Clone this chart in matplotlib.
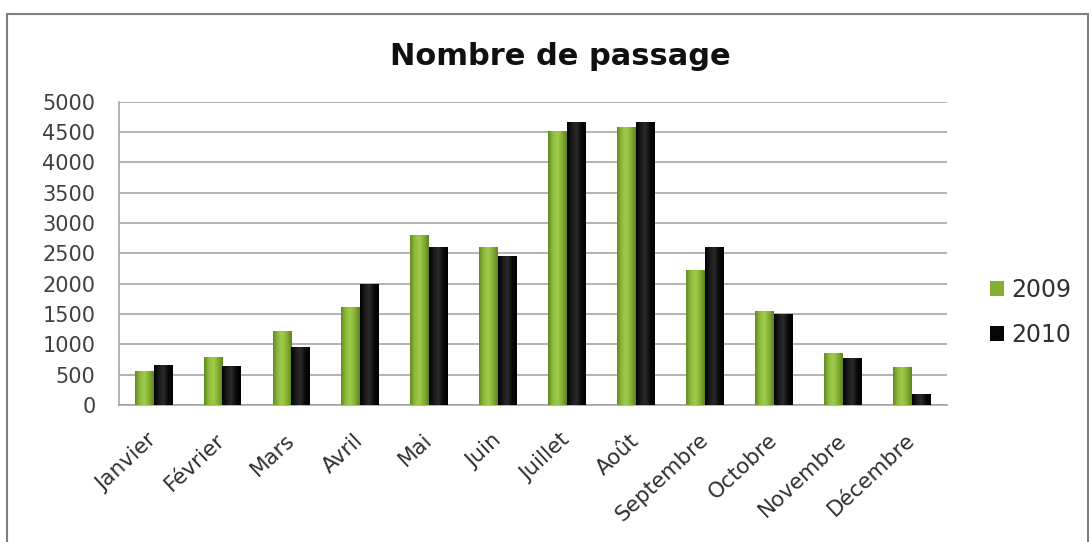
import numpy as np
import matplotlib
matplotlib.use("Agg")
import matplotlib.pyplot as plt
from matplotlib.patches import Rectangle
from matplotlib.colors import LinearSegmentedColormap
from matplotlib.transforms import ScaledTranslation

months = ["Janvier", "Février", "Mars", "Avril", "Mai", "Juin", "Juillet",
          "Août", "Septembre", "Octobre", "Novembre", "Décembre"]
passages_2009 = [560, 790, 1220, 1620, 2800, 2610, 4520, 4590, 2230, 1550, 850, 630]
passages_2010 = [660, 640, 960, 1990, 2610, 2460, 4660, 4660, 2610, 1495, 770, 180]
series_labels = ["2009", "2010"]
yticks = [0, 500, 1000, 1500, 2000, 2500, 3000, 3500, 4000, 4500, 5000]

plt.rcParams["font.family"] = ["DejaVu Sans"]

fig = plt.figure(figsize=(10.92, 5.42), dpi=100)
fig.patch.set_facecolor("white")

# outer chart frame
frame = Rectangle((0.006, -0.02), 0.99, 0.995, transform=fig.transFigure,
                  fill=False, edgecolor="#7f7f7f", linewidth=1.5)
fig.add_artist(frame)

ax = fig.add_axes([0.109, 0.253, 0.758, 0.559])
x = np.arange(len(months))
w = 0.275

green_cmap = LinearSegmentedColormap.from_list(
    "g", ["#638a22", "#8fbb3c", "#a0cc4e", "#84ae30", "#5f8420"])
black_cmap = LinearSegmentedColormap.from_list(
    "k", ["#000000", "#1a1a1a", "#2a2a2a", "#0a0a0a", "#000000"])

bars09 = ax.bar(x - w / 2, passages_2009, width=w, color="#84ae30", zorder=3,
                label=series_labels[0])
bars10 = ax.bar(x + w / 2, passages_2010, width=w, color="#050505", zorder=3,
                label=series_labels[1])

# horizontal shading across each bar
grad = np.linspace(0, 1, 64).reshape(1, -1)
for bars, cmap in ((bars09, green_cmap), (bars10, black_cmap)):
    for b in bars:
        x0, y0 = b.get_x(), b.get_y()
        bw, bh = b.get_width(), b.get_height()
        im = ax.imshow(grad, cmap=cmap, aspect="auto",
                       extent=(x0, x0 + bw, y0, y0 + bh), zorder=4)
        im.set_clip_path(b)

ax.set_xlim(-0.5, len(months) - 0.5)
ax.set_ylim(0, 5000)
ax.set_yticks(yticks)
ax.set_yticklabels([str(v) for v in yticks], fontsize=15, color="#404040")
ax.set_xticks(x)
ax.set_xticklabels(months, rotation=43, ha="right", rotation_mode="anchor",
                   fontsize=15.5, color="#303030")
ax.tick_params(axis="y", length=0, pad=17)
ax.tick_params(axis="x", length=0, pad=18)
shift = ScaledTranslation(-7 / 100, 0, fig.dpi_scale_trans)
for lbl in ax.get_xticklabels():
    lbl.set_transform(lbl.get_transform() + shift)

ax.yaxis.grid(True, color="#a6a6a6", linewidth=1.2, zorder=0)
ax.set_axisbelow(True)
for side in ("top", "right"):
    ax.spines[side].set_visible(False)
ax.spines["left"].set_color("#a6a6a6")
ax.spines["bottom"].set_color("#a6a6a6")
ax.spines["left"].set_linewidth(1.2)
ax.spines["bottom"].set_linewidth(1.2)

fig.text(0.513, 0.880, "Nombre de passage", ha="center", va="baseline",
         fontsize=22, fontweight="bold", color="#101010")

leg = ax.legend(loc="center left", bbox_to_anchor=(1.026, 0.305),
                frameon=False, fontsize=17, handlelength=0.6,
                handleheight=0.6, handletextpad=0.3, labelspacing=0.9)
for t in leg.get_texts():
    t.set_color("#303030")

fig.savefig("out.png", dpi=100)
